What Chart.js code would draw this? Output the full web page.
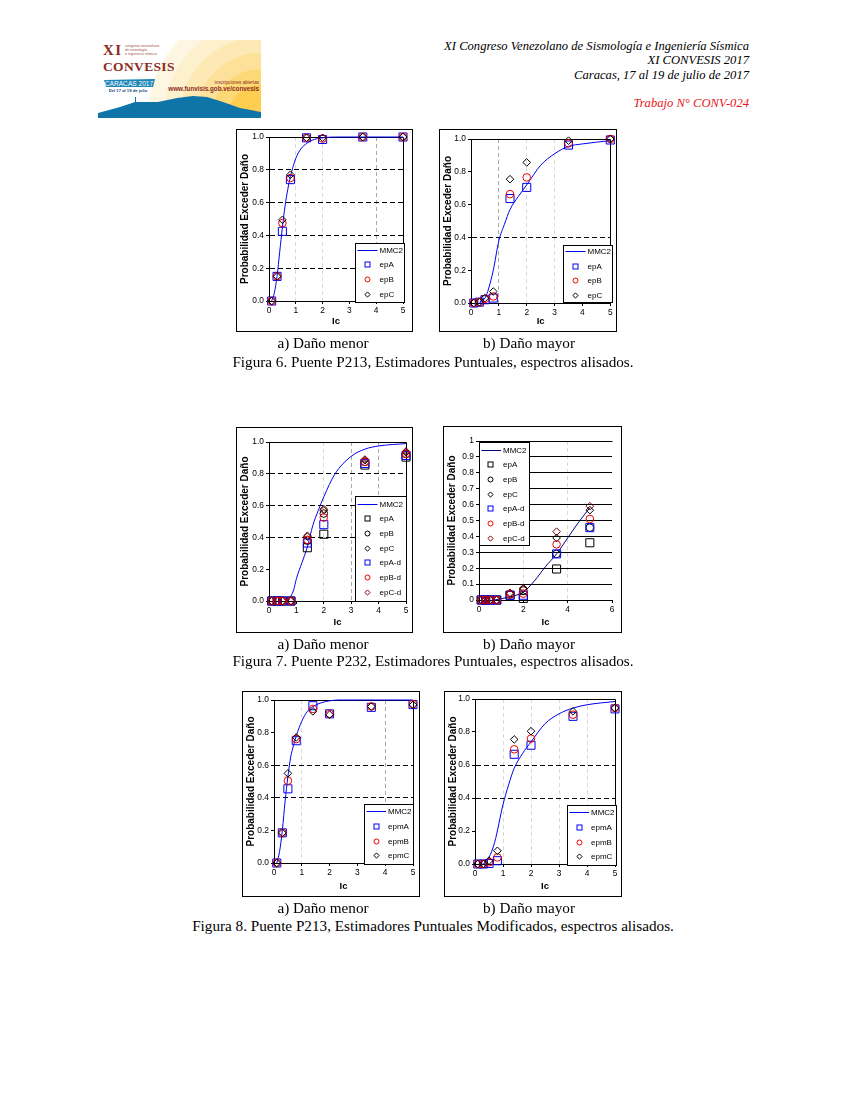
<!DOCTYPE html>
<html>
<head>
<meta charset="utf-8">
<title>Figuras 6 a 8</title>
<script src="https://cdn.jsdelivr.net/npm/chart.js@4"></script>
<style>
    html, body { margin: 0; padding: 0; background: #fff; }
    body { width: 847px; height: 1095px; position: relative; overflow: hidden; font-family: "Liberation Serif", serif; color: #000; }
    .head { position: absolute; right: 98px; font-size: 12.6px; font-style: italic; white-space: nowrap; line-height: 14px; }
    .cap { position: absolute; font-size: 15.2px; white-space: nowrap; line-height: 16px; transform: translateX(-50%); }
    canvas { position: absolute; outline: 1px solid #000; outline-offset: -1px; background: #fff; }
    #logo { position: absolute; left: 98px; top: 40px; }
</style>
</head>
<body>

<svg id="logo" width="163" height="78" viewBox="98 40 163 78">
    <defs><clipPath id="c"><rect x="98" y="40" width="163" height="78"/></clipPath></defs>
    <g clip-path="url(#c)">
        <circle cx="260" cy="117" r="112" fill="#fdf6e3"/>
        <circle cx="260" cy="117" r="96" fill="#fdf0cc"/>
        <circle cx="260" cy="117" r="80" fill="#fde9b4"/>
        <circle cx="260" cy="117" r="64" fill="#fde19a"/>
        <circle cx="260" cy="117" r="48" fill="#fdd877"/>
        <circle cx="260" cy="117" r="32" fill="#fdce50"/>
        <path d="M98 118 L98 113 L120 107 L135 102 L145 102 L158 102 L177 98 L193 96 L207 97 L223 102 L240 108 L261 112 L261 118 Z" fill="#0f74a8"/>
        <rect x="135" y="97" width="1" height="6" fill="#0f74a8"/>
    </g>
    <text x="103" y="55" font-family="Liberation Serif" font-weight="bold" font-size="15" letter-spacing="1.5" fill="#8c2c24">XI</text>
    <text x="103" y="71" font-family="Liberation Serif" font-weight="bold" font-size="13.5" letter-spacing="0.35" fill="#8c2c24">CONVESIS</text>
    <g font-family="Liberation Sans" font-size="3.6" fill="#a5544c">
        <text x="125" y="47">congreso venezolano</text>
        <text x="125" y="51">de sismología</text>
        <text x="125" y="55">e ingeniería sísmica</text>
    </g>
    <path d="M104 80 L155 79 L153 87 L106 87 Z" fill="#1d87b8"/>
    <text x="129" y="86" text-anchor="middle" font-family="Liberation Sans" font-size="6.6" fill="#fff">CARACAS 2017</text>
    <text x="128" y="92" text-anchor="middle" font-family="Liberation Sans" font-weight="bold" font-size="4.2" fill="#124a78">Del 17 al 19 de julio</text>
    <text x="259" y="84" text-anchor="end" font-family="Liberation Sans" font-size="4.6" fill="#8c2c24">inscripciones abiertas</text>
    <text x="259" y="90.5" text-anchor="end" font-family="Liberation Sans" font-weight="bold" font-size="6.3" fill="#8c2c24">www.funvisis.gob.ve/convesis</text>
</svg>

<div class="head" style="top:39px">XI Congreso Venezolano de Sismología e Ingeniería Sísmica</div>
<div class="head" style="top:53px">XI CONVESIS 2017</div>
<div class="head" style="top:68px">Caracas, 17 al 19 de julio de 2017</div>
<div class="head" style="top:96px;color:#e8141c">Trabajo N° CONV-024</div>

<canvas id="fig6a"></canvas>
<canvas id="fig6b"></canvas>
<canvas id="fig7a"></canvas>
<canvas id="fig7b"></canvas>
<canvas id="fig8a"></canvas>
<canvas id="fig8b"></canvas>

<div class="cap" style="left:323px;top:335px">a) Daño menor</div>
<div class="cap" style="left:529px;top:335px">b) Daño mayor</div>
<div class="cap" style="left:433px;top:354px">Figura 6. Puente P213, Estimadores Puntuales, espectros alisados.</div>
<div class="cap" style="left:323px;top:636px">a) Daño menor</div>
<div class="cap" style="left:529px;top:636px">b) Daño mayor</div>
<div class="cap" style="left:433px;top:653px">Figura 7. Puente P232, Estimadores Puntuales, espectros alisados.</div>
<div class="cap" style="left:323px;top:900px">a) Daño menor</div>
<div class="cap" style="left:529px;top:900px">b) Daño mayor</div>
<div class="cap" style="left:433px;top:918px">Figura 8. Puente P213, Estimadores Puntuales Modificados, espectros alisados.</div>

<script>
    // Ic values of the point estimates, same for all panels
    const ic = [0.1, 0.3, 0.5, 0.8, 1.4, 2, 3.5, 5];

    // Figura 6 a)
    const fig6aCurveX = [0.1, 0.2, 0.3, 0.4, 0.5, 0.6, 0.7, 0.8, 0.9, 1, 1.2, 1.4, 1.6, 2, 2.6, 3.5, 5];
    const fig6aCurveY = [0, 0.05, 0.15, 0.3, 0.45, 0.58, 0.68, 0.76, 0.82, 0.87, 0.93, 0.96, 0.98, 0.995, 1, 1, 1];
    const fig6aEpA = [0, 0.15, 0.425, 0.74, 0.995, 0.985, 1, 1];
    const fig6aEpB = [0, 0.15, 0.475, 0.75, 0.995, 0.99, 1, 1];
    const fig6aEpC = [0, 0.15, 0.495, 0.77, 0.995, 0.995, 1, 1];

    // Figura 6 b)
    const fig6bCurveX = [0.3, 0.5, 0.6, 0.8, 1, 1.2, 1.4, 1.7, 2, 2.5, 3, 3.5, 4, 5];
    const fig6bCurveY = [0, 0.03, 0.07, 0.2, 0.38, 0.48, 0.57, 0.65, 0.72, 0.84, 0.91, 0.955, 0.97, 0.99];
    const fig6bEpA = [0, 0.005, 0.02, 0.03, 0.637, 0.705, 0.963, 0.994];
    const fig6bEpB = [0, 0.005, 0.025, 0.04, 0.664, 0.766, 0.973, 1];
    const fig6bEpC = [0, 0.005, 0.03, 0.07, 0.755, 0.857, 0.99, 1];

    // Figura 7 a)
    const fig7aCurveX = [0.7, 0.9, 1, 1.2, 1.4, 1.6, 1.8, 2, 2.4, 3, 3.5, 4, 5];
    const fig7aCurveY = [0, 0.07, 0.14, 0.24, 0.34, 0.476, 0.57, 0.655, 0.797, 0.91, 0.955, 0.975, 0.99];
    const fig7aEpA = [0, 0, 0, 0, 0.335, 0.42, 0.855, 0.905];
    const fig7aEpB = [0, 0, 0, 0, 0.38, 0.55, 0.875, 0.925];
    const fig7aEpC = [0, 0, 0, 0, 0.405, 0.57, 0.885, 0.935];
    const fig7aEpAd = [0, 0, 0, 0, 0.365, 0.48, 0.865, 0.915];
    const fig7aEpBd = [0, 0, 0, 0, 0.385, 0.525, 0.875, 0.925];
    const fig7aEpCd = [0, 0, 0, 0, 0.41, 0.578, 0.89, 0.94];

    // Figura 7 b)
    const fig7bCurveX = [0.7, 1.4, 2, 2.5, 3, 3.5, 4, 4.5, 5];
    const fig7bCurveY = [0, 0.02, 0.05, 0.12, 0.21, 0.29, 0.39, 0.49, 0.58];
    const fig7bEpA = [0, 0, 0, 0, 0.03, 0.01, 0.195, 0.36];
    const fig7bEpB = [0, 0, 0, 0, 0.035, 0.06, 0.29, 0.455];
    const fig7bEpC = [0, 0, 0, 0, 0.04, 0.07, 0.39, 0.565];
    const fig7bEpAd = [0, 0, 0, 0, 0.03, 0.03, 0.29, 0.455];
    const fig7bEpBd = [0, 0, 0, 0, 0.035, 0.04, 0.35, 0.51];
    const fig7bEpCd = [0, 0, 0, 0, 0.045, 0.075, 0.43, 0.59];

    // Figura 8 a)
    const fig8aCurveX = [0.1, 0.2, 0.3, 0.4, 0.5, 0.6, 0.7, 0.8, 1, 1.2, 1.4, 2, 2.5, 5];
    const fig8aCurveY = [0, 0.07, 0.2, 0.38, 0.53, 0.65, 0.72, 0.78, 0.87, 0.93, 0.96, 0.995, 1, 1];
    const fig8aEpmA = [0, 0.185, 0.455, 0.75, 0.965, 0.915, 0.955, 0.972];
    const fig8aEpmB = [0, 0.185, 0.505, 0.76, 0.945, 0.915, 0.96, 0.975];
    const fig8aEpmC = [0, 0.185, 0.55, 0.77, 0.93, 0.91, 0.96, 0.97];

    // Figura 8 b)
    const fig8bCurveX = [0.3, 0.5, 0.7, 1, 1.2, 1.4, 1.7, 2, 2.5, 3, 3.5, 4, 5];
    const fig8bCurveY = [0, 0.04, 0.13, 0.36, 0.48, 0.58, 0.67, 0.74, 0.85, 0.91, 0.945, 0.965, 0.985];
    const fig8bEpmA = [0, 0, 0.003, 0.02, 0.665, 0.72, 0.895, 0.94];
    const fig8bEpmB = [0, 0, 0.01, 0.04, 0.695, 0.76, 0.905, 0.945];
    const fig8bEpmC = [0, 0, 0.02, 0.08, 0.755, 0.805, 0.925, 0.945];

    const sansFont = '"Liberation Sans", Arial, sans-serif';
    const blue = '#0000f0';
    const red = '#f00000';
    const black = '#000000';
    const darkRed = '#800000';

    // Top and right edge of the plot, the axes only give left and bottom
    const plotBoxPlugin = {
        id: 'plotBox',
        beforeDatasetsDraw(chart, args, opts) {
            const a = chart.chartArea;
            const c = chart.ctx;
            const top = Math.round(a.top - 0.5) + 0.5;
            const right = Math.round(a.right - 0.5) + 0.5;
            c.save();
            c.strokeStyle = '#000';
            c.lineWidth = 1;
            c.beginPath();
            c.moveTo(a.left, top);
            c.lineTo(right, top);
            if (opts.right) c.lineTo(right, a.bottom);
            c.stroke();
            c.restore();
        }
    };

    // Boxed legend sitting inside the plot
    const boxLegendPlugin = {
        id: 'boxLegend',
        afterDraw(chart, args, opts) {
            const c = chart.ctx;
            c.save();
            c.fillStyle = '#fff';
            c.strokeStyle = '#000';
            c.lineWidth = 1;
            c.fillRect(opts.x, opts.y, opts.w, opts.h);
            c.strokeRect(opts.x, opts.y, opts.w, opts.h);
            c.font = '8px ' + sansFont;
            c.textBaseline = 'middle';
            chart.data.datasets.forEach((ds, i) => {
                const rowY = Math.round(opts.y + opts.firstRow + i * opts.rowStep) + 0.5;
                c.strokeStyle = ds.borderColor;
                c.lineWidth = 1;
                if (i === 0) {
                    c.beginPath();
                    c.moveTo(opts.x + 2, rowY);
                    c.lineTo(opts.x + opts.textX - 2, rowY);
                    c.stroke();
                } else if (ds.pointStyle === 'rect') {
                    c.strokeRect(opts.x + opts.markX - 2.5, rowY - 2.5, 5, 5);
                } else if (ds.pointStyle === 'circle') {
                    c.beginPath();
                    c.arc(opts.x + opts.markX, rowY, 2.5, 0, Math.PI * 2);
                    c.stroke();
                } else {
                    const mx = opts.x + opts.markX;
                    c.beginPath();
                    c.moveTo(mx - 2.6, rowY);
                    c.lineTo(mx, rowY - 2.6);
                    c.lineTo(mx + 2.6, rowY);
                    c.lineTo(mx, rowY + 2.6);
                    c.closePath();
                    c.stroke();
                }
                c.fillStyle = '#000';
                c.textAlign = 'left';
                c.fillText(ds.label, opts.x + opts.textX, rowY);
            });
            c.restore();
        }
    };

    function markerSeries(label, data, color, style) {
        return {
            label: label,
            data: data.map((v, i) => ({ x: ic[i], y: v })),
            borderColor: color,
            backgroundColor: 'transparent',
            pointStyle: style,
            pointRadius: style === 'rect' ? 5.7 : 3.8,
            pointBorderWidth: 1,
            showLine: false,
            clip: false
        };
    }

    function createPanel(id, box, plot, curveX, curveY, curveColor, series, grid, legend) {
        const canvas = document.getElementById(id);
        const width = box.right - box.left;
        const height = box.bottom - box.top;
        canvas.style.left = box.left + 'px';
        canvas.style.top = box.top + 'px';
        canvas.width = width;
        canvas.height = height;

        const datasets = [{
            label: 'MMC2',
            data: curveX.map((v, i) => ({ x: v, y: curveY[i] })),
            borderColor: curveColor,
            borderWidth: 1,
            pointRadius: 0,
            showLine: true,
            cubicInterpolationMode: 'monotone',
            clip: false
        }].concat(series);
        datasets.forEach((ds, i) => { ds.order = -i; });

        return new Chart(canvas.getContext('2d'), {
            type: 'scatter',
            data: { datasets: datasets },
            plugins: [plotBoxPlugin, boxLegendPlugin],
            options: {
                responsive: false,
                animation: false,
                events: [],
                layout: { padding: { top: plot.top - box.top, right: box.right - plot.right, left: 0, bottom: 0 } },
                plugins: {
                    legend: { display: false },
                    tooltip: { enabled: false },
                    plotBox: { right: grid.rightEdge },
                    boxLegend: {
                        x: legend.x - box.left, y: legend.y - box.top, w: legend.w, h: legend.h,
                        firstRow: legend.firstRow, rowStep: legend.rowStep, markX: legend.markX, textX: legend.textX
                    }
                },
                scales: {
                    x: {
                        type: 'linear',
                        min: 0,
                        max: grid.xMax,
                        afterFit(scale) { scale.height = box.bottom - plot.bottom; },
                        title: { display: true, text: 'Ic', color: '#000', padding: { top: 0, bottom: 5 }, font: { family: sansFont, size: 9.5, weight: 'bold' } },
                        ticks: { stepSize: grid.xStep, color: '#000', padding: 2, maxRotation: 0, font: { family: sansFont, size: 8.4 } },
                        border: { display: true, color: '#000', width: 1, dash: [4, 3] },
                        grid: {
                            color: ctx => grid.xLines[ctx.tick.value] || 'transparent',
                            lineWidth: 1,
                            tickColor: '#000',
                            tickLength: 3
                        }
                    },
                    y: {
                        min: 0,
                        max: 1,
                        afterFit(scale) { scale.width = plot.left - box.left; },
                        title: { display: true, text: 'Probabilidad Exceder Daño', color: '#000', padding: { top: 3, bottom: 0 }, font: { family: sansFont, size: 10, weight: 'bold' } },
                        ticks: {
                            stepSize: grid.yStep,
                            color: '#000',
                            padding: 2,
                            font: { family: sansFont, size: 8.4 },
                            callback: v => grid.plainTicks ? String(Number(v.toFixed(1))) : v.toFixed(1)
                        },
                        border: { display: true, color: '#000', width: 1, dash: grid.yDash },
                        grid: {
                            color: ctx => grid.yLines.includes(Math.round(ctx.tick.value * 10)) ? '#000' : 'transparent',
                            lineWidth: 1,
                            tickColor: '#000',
                            tickLength: 3
                        }
                    }
                }
            }
        });
    }

    const light = '#d8d8d8';
    const mid = '#a8a8a8';

    createPanel('fig6a',
        { left: 236, right: 413, top: 129, bottom: 332 },
        { left: 269, right: 403, top: 137, bottom: 301 },
        fig6aCurveX, fig6aCurveY, blue,
        [markerSeries('epA', fig6aEpA, blue, 'rect'), markerSeries('epB', fig6aEpB, red, 'circle'), markerSeries('epC', fig6aEpC, black, 'rectRot')],
        { xMax: 5, xStep: 1, yStep: 0.2, rightEdge: true, yDash: [5, 3], yLines: [2, 4, 6, 8], xLines: { 1: light, 2: light, 4: mid } },
        { x: 355.5, y: 243.5, w: 49, h: 59, firstRow: 6, rowStep: 14.7, markX: 12, textX: 24 });

    createPanel('fig6b',
        { left: 439, right: 617, top: 129, bottom: 332 },
        { left: 471, right: 612, top: 139, bottom: 303 },
        fig6bCurveX, fig6bCurveY, blue,
        [markerSeries('epA', fig6bEpA, blue, 'rect'), markerSeries('epB', fig6bEpB, red, 'circle'), markerSeries('epC', fig6bEpC, black, 'rectRot')],
        { xMax: 5, xStep: 1, yStep: 0.2, rightEdge: true, yDash: [5, 3], yLines: [4], xLines: { 1: mid, 2: light, 3: light } },
        { x: 563.5, y: 245.5, w: 49, h: 57, firstRow: 5.5, rowStep: 14.7, markX: 12, textX: 24 });

    createPanel('fig7a',
        { left: 236, right: 413, top: 427, bottom: 633 },
        { left: 269, right: 406, top: 442, bottom: 601 },
        fig7aCurveX, fig7aCurveY, blue,
        [markerSeries('epA', fig7aEpA, black, 'rect'), markerSeries('epB', fig7aEpB, black, 'circle'), markerSeries('epC', fig7aEpC, black, 'rectRot'),
         markerSeries('epA-d', fig7aEpAd, blue, 'rect'), markerSeries('epB-d', fig7aEpBd, red, 'circle'), markerSeries('epC-d', fig7aEpCd, darkRed, 'rectRot')],
        { xMax: 5, xStep: 1, yStep: 0.2, rightEdge: true, yDash: [5, 3], yLines: [4, 6, 8], xLines: { 2: light, 3: mid, 4: mid } },
        { x: 355.5, y: 496.5, w: 51, h: 105, firstRow: 7, rowStep: 14.7, markX: 12, textX: 24 });

    createPanel('fig7b',
        { left: 443, right: 622, top: 426, bottom: 633 },
        { left: 479, right: 612, top: 441, bottom: 600 },
        fig7bCurveX, fig7bCurveY, '#000080',
        [markerSeries('epA', fig7bEpA, black, 'rect'), markerSeries('epB', fig7bEpB, black, 'circle'), markerSeries('epC', fig7bEpC, black, 'rectRot'),
         markerSeries('epA-d', fig7bEpAd, blue, 'rect'), markerSeries('epB-d', fig7bEpBd, red, 'circle'), markerSeries('epC-d', fig7bEpCd, darkRed, 'rectRot')],
        { xMax: 6, xStep: 2, yStep: 0.1, rightEdge: false, plainTicks: true, yDash: [], yLines: [1, 2, 3, 4, 5, 6, 7, 8, 9], xLines: { 2: light, 4: light } },
        { x: 479.5, y: 442.5, w: 50, h: 103, firstRow: 7, rowStep: 14.7, markX: 11, textX: 23.5 });

    createPanel('fig8a',
        { left: 242, right: 420, top: 691, bottom: 897 },
        { left: 274, right: 413, top: 700, bottom: 863 },
        fig8aCurveX, fig8aCurveY, blue,
        [markerSeries('epmA', fig8aEpmA, blue, 'rect'), markerSeries('epmB', fig8aEpmB, red, 'circle'), markerSeries('epmC', fig8aEpmC, black, 'rectRot')],
        { xMax: 5, xStep: 1, yStep: 0.2, rightEdge: true, yDash: [5, 3], yLines: [4, 6], xLines: { 1: light, 4: mid } },
        { x: 364.5, y: 804.5, w: 49, h: 60, firstRow: 6.5, rowStep: 14.8, markX: 12, textX: 23.5 });

    createPanel('fig8b',
        { left: 444, right: 622, top: 691, bottom: 897 },
        { left: 475, right: 615, top: 699, bottom: 864 },
        fig8bCurveX, fig8bCurveY, blue,
        [markerSeries('epmA', fig8bEpmA, blue, 'rect'), markerSeries('epmB', fig8bEpmB, red, 'circle'), markerSeries('epmC', fig8bEpmC, black, 'rectRot')],
        { xMax: 5, xStep: 1, yStep: 0.2, rightEdge: true, yDash: [5, 3], yLines: [4, 6], xLines: { 1: light, 2: light, 3: light, 4: light } },
        { x: 567.5, y: 805.5, w: 49, h: 60, firstRow: 6.5, rowStep: 14.8, markX: 12, textX: 23.5 });
</script>
</body>
</html>
